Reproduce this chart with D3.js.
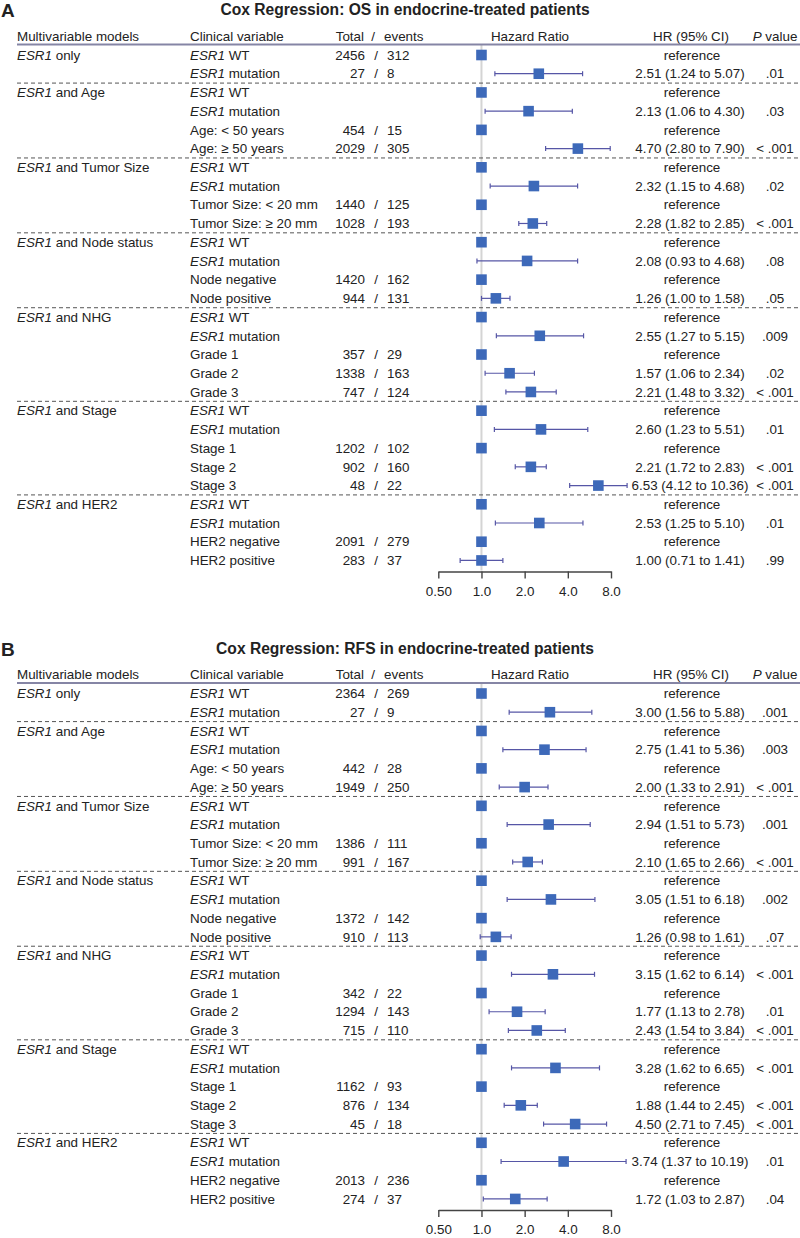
<!DOCTYPE html>
<html>
<head>
<meta charset="utf-8">
<script src="https://cdn.jsdelivr.net/npm/d3@7"></script>
<style>
  body { margin: 0; background: #fff; }
  text { font-family: Arial, "Liberation Sans", sans-serif; fill: #222; }
</style>
</head>
<body>
<svg width="800" height="1238"></svg>
<script>
// ---- data (shared row structure) ----
const groupSizes = [2, 4, 4, 4, 5, 5, 4];
const models = ["only", "and Age", "and Tumor Size", "and Node status", "and NHG", "and Stage", "and HER2"];
const variables = [
  "ESR1 WT", "ESR1 mutation",
  "ESR1 WT", "ESR1 mutation", "Age: < 50 years", "Age: \u2265 50 years",
  "ESR1 WT", "ESR1 mutation", "Tumor Size: < 20 mm", "Tumor Size: \u2265 20 mm",
  "ESR1 WT", "ESR1 mutation", "Node negative", "Node positive",
  "ESR1 WT", "ESR1 mutation", "Grade 1", "Grade 2", "Grade 3",
  "ESR1 WT", "ESR1 mutation", "Stage 1", "Stage 2", "Stage 3",
  "ESR1 WT", "ESR1 mutation", "HER2 negative", "HER2 positive"
];
const tickValues = [0.5, 1, 2, 4, 8];
const tickLabels = ["0.50", "1.0", "2.0", "4.0", "8.0"];

// ---- OS ----
const osTotal  = [2456, 27, null, null, 454, 2029, null, null, 1440, 1028, null, null, 1420, 944, null, null, 357, 1338, 747, null, null, 1202, 902, 48, null, null, 2091, 283];
const osEvents = [312, 8, null, null, 15, 305, null, null, 125, 193, null, null, 162, 131, null, null, 29, 163, 124, null, null, 102, 160, 22, null, null, 279, 37];
const osHR  = [null, 2.51, null, 2.13, null, 4.70, null, 2.32, null, 2.28, null, 2.08, null, 1.26, null, 2.55, null, 1.57, 2.21, null, 2.60, null, 2.21, 6.53, null, 2.53, null, 1.00];
const osLow = [null, 1.24, null, 1.06, null, 2.80, null, 1.15, null, 1.82, null, 0.93, null, 1.00, null, 1.27, null, 1.06, 1.48, null, 1.23, null, 1.72, 4.12, null, 1.25, null, 0.71];
const osHigh = [null, 5.07, null, 4.30, null, 7.90, null, 4.68, null, 2.85, null, 4.68, null, 1.58, null, 5.15, null, 2.34, 3.32, null, 5.51, null, 2.83, 10.36, null, 5.10, null, 1.41];
const osP = [null, ".01", null, ".03", null, "< .001", null, ".02", null, "< .001", null, ".08", null, ".05", null, ".009", null, ".02", "< .001", null, ".01", null, "< .001", "< .001", null, ".01", null, ".99"];

// ---- RFS ----
const rfsTotal  = [2364, 27, null, null, 442, 1949, null, null, 1386, 991, null, null, 1372, 910, null, null, 342, 1294, 715, null, null, 1162, 876, 45, null, null, 2013, 274];
const rfsEvents = [269, 9, null, null, 28, 250, null, null, 111, 167, null, null, 142, 113, null, null, 22, 143, 110, null, null, 93, 134, 18, null, null, 236, 37];
const rfsHR  = [null, 3.00, null, 2.75, null, 2.00, null, 2.94, null, 2.10, null, 3.05, null, 1.26, null, 3.15, null, 1.77, 2.43, null, 3.28, null, 1.88, 4.50, null, 3.74, null, 1.72];
const rfsLow = [null, 1.56, null, 1.41, null, 1.33, null, 1.51, null, 1.65, null, 1.51, null, 0.98, null, 1.62, null, 1.13, 1.54, null, 1.62, null, 1.44, 2.71, null, 1.37, null, 1.03];
const rfsHigh = [null, 5.88, null, 5.36, null, 2.91, null, 5.73, null, 2.66, null, 6.18, null, 1.61, null, 6.14, null, 2.78, 3.84, null, 6.65, null, 2.45, 7.45, null, 10.19, null, 2.87];
const rfsP = [null, ".001", null, ".003", null, "< .001", null, ".001", null, "< .001", null, ".002", null, ".07", null, "< .001", null, ".01", "< .001", null, "< .001", null, "< .001", "< .001", null, ".01", null, ".04"];

const svg = d3.select("svg");
const rowH = 18.72;
const fs = "13.4px";
const boxColor = "#3d69b9", ciColor = "#5656a6";

const x = d3.scaleLog().base(2).domain([0.5, 8]).range([438.3, 611]);

// writes "ESR1 xxx" with ESR1 in italics
function label(sel, str) {
  if (str.startsWith("ESR1")) {
    sel.append("tspan").attr("font-style", "italic").text("ESR1");
    sel.append("tspan").text(str.slice(4));
  } else sel.text(str);
}

function drawPanel(top, letter, title, total, events, hr, lo, hi, pv) {
  const g = svg.append("g").attr("transform", `translate(0, ${top})`);

  g.append("text").attr("x", 1).attr("y", 17)
    .attr("font-size", "19px").attr("font-weight", "bold").text(letter);
  g.append("text").attr("x", 405).attr("y", 15).attr("text-anchor", "middle")
    .attr("font-size", "15.6px").attr("font-weight", "bold").text(title);

  // header
  const hy = 40.5;
  g.append("text").attr("x", 17).attr("y", hy).attr("font-size", fs).text("Multivariable models");
  g.append("text").attr("x", 190).attr("y", hy).attr("font-size", fs).text("Clinical variable");
  g.append("text").attr("x", 364).attr("y", hy).attr("font-size", fs).attr("text-anchor", "end").text("Total");
  g.append("text").attr("x", 373).attr("y", hy).attr("font-size", fs).attr("text-anchor", "middle").text("/");
  g.append("text").attr("x", 384).attr("y", hy).attr("font-size", fs).text("events");
  g.append("text").attr("x", 530).attr("y", hy).attr("font-size", fs).attr("text-anchor", "middle").text("Hazard Ratio");
  g.append("text").attr("x", 691).attr("y", hy).attr("font-size", fs).attr("text-anchor", "middle").text("HR (95% CI)");
  const pt = g.append("text").attr("x", 775).attr("y", hy).attr("font-size", fs).attr("text-anchor", "middle");
  pt.append("tspan").attr("font-style", "italic").text("P");
  pt.append("tspan").text(" value");

  const y0 = 55;
  const rowY = i => y0 + i * rowH;
  const nRows = variables.length;
  const axisY = rowY(nRows - 1) + 10;

  // reference line at HR = 1
  g.append("line").attr("x1", x(1)).attr("x2", x(1))
    .attr("y1", 45).attr("y2", axisY)
    .attr("stroke", "#d4d4d4").attr("stroke-width", 2);

  g.append("line").attr("x1", 17).attr("x2", 800).attr("y1", 44.5).attr("y2", 44.5)
    .attr("stroke", "#8585a5").attr("stroke-width", 2);

  // model labels + dashed separators
  let start = 0;
  groupSizes.forEach((n, k) => {
    const t = g.append("text").attr("x", 17).attr("y", rowY(start) + 4.7).attr("font-size", fs);
    t.append("tspan").attr("font-style", "italic").text("ESR1");
    t.append("tspan").text(" " + models[k]);
    start += n;
    if (k < groupSizes.length - 1) {
      const ly = (rowY(start - 1) + rowY(start)) / 2;
      g.append("line").attr("x1", 17).attr("x2", 800).attr("y1", ly).attr("y2", ly)
        .attr("stroke", "#555").attr("stroke-width", 1).attr("stroke-dasharray", "4,3");
    }
  });

  variables.forEach((v, i) => {
    const cy = rowY(i), by = cy + 4.7;
    label(g.append("text").attr("x", 190).attr("y", by).attr("font-size", fs), v);
    if (total[i] != null) {
      g.append("text").attr("x", 365).attr("y", by).attr("font-size", fs).attr("text-anchor", "end").text(total[i]);
      g.append("text").attr("x", 376).attr("y", by).attr("font-size", fs).attr("text-anchor", "middle").text("/");
      g.append("text").attr("x", 387).attr("y", by).attr("font-size", fs).text(events[i]);
    }
    let val = 1;
    if (hr[i] == null) {
      g.append("text").attr("x", 692).attr("y", by).attr("font-size", fs).attr("text-anchor", "middle").text("reference");
    } else {
      val = hr[i];
      const c = g.append("g").attr("stroke", ciColor).attr("stroke-width", 1.2);
      c.append("line").attr("x1", x(lo[i])).attr("x2", x(hi[i])).attr("y1", cy).attr("y2", cy);
      [lo[i], hi[i]].forEach(e => c.append("line").attr("x1", x(e)).attr("x2", x(e)).attr("y1", cy - 2.5).attr("y2", cy + 2.5));
      g.append("text").attr("x", 690).attr("y", by).attr("font-size", fs).attr("text-anchor", "middle")
        .text(`${hr[i].toFixed(2)} (${lo[i].toFixed(2)} to ${hi[i].toFixed(2)})`);
      g.append("text").attr("x", 775).attr("y", by).attr("font-size", fs).attr("text-anchor", "middle").text(pv[i]);
    }
    g.append("rect").attr("x", x(val) - 5.3).attr("y", cy - 5.3)
      .attr("width", 10.6).attr("height", 10.6).attr("fill", boxColor);
  });

  const axis = d3.axisBottom(x).tickValues(tickValues)
    .tickFormat((d, i) => tickLabels[i]).tickSize(7).tickSizeOuter(0).tickPadding(8);
  const ax = g.append("g").attr("transform", `translate(0, ${axisY + 1})`).call(axis);
  ax.select(".domain").attr("stroke", "#444").attr("stroke-width", 1.4);
  ax.selectAll(".tick line").attr("stroke", "#444").attr("stroke-width", 1.4);
  ax.selectAll(".tick text").attr("font-size", fs).attr("fill", "#222")
    .attr("font-family", "Arial, 'Liberation Sans', sans-serif");
}

drawPanel(0, "A", "Cox Regression: OS in endocrine-treated patients",
  osTotal, osEvents, osHR, osLow, osHigh, osP);
drawPanel(638.5, "B", "Cox Regression: RFS in endocrine-treated patients",
  rfsTotal, rfsEvents, rfsHR, rfsLow, rfsHigh, rfsP);
</script>
</body>
</html>
